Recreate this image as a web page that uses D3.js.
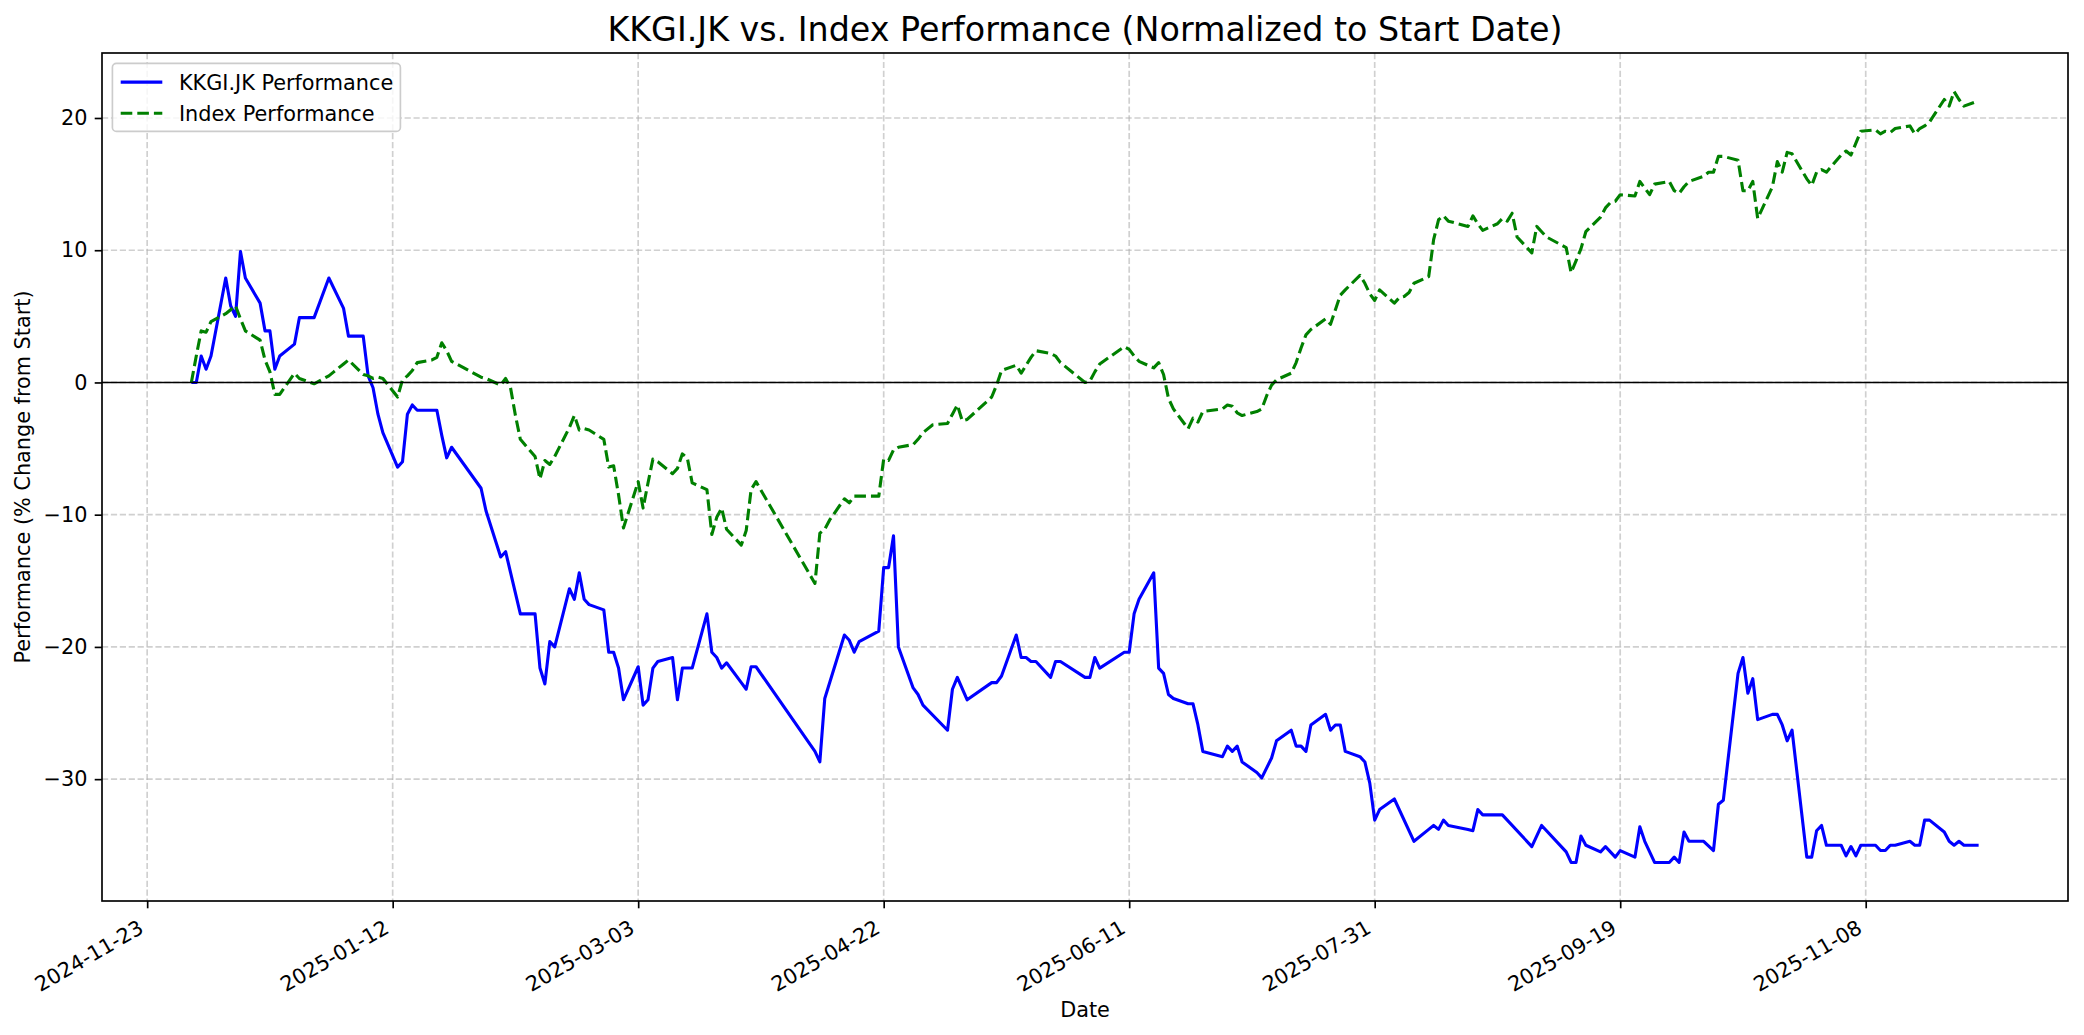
<!DOCTYPE html>
<html>
<head>
<meta charset="utf-8">
<script src="https://cdn.jsdelivr.net/npm/d3@7"></script>
<style>
  body { margin: 0; background: #fff; }
  svg { font-family: "DejaVu Sans", sans-serif; }
</style>
</head>
<body>
<svg id="chart" width="2084" height="1035"></svg>
<script>
// KKGI.JK vs. index, % change from first trading day

const stockDates = [
  "2024-12-02","2024-12-03","2024-12-04","2024-12-05","2024-12-06","2024-12-09","2024-12-10","2024-12-11","2024-12-12","2024-12-13",
  "2024-12-16","2024-12-17","2024-12-18","2024-12-19","2024-12-20","2024-12-23","2024-12-24","2024-12-27","2024-12-30","2025-01-02",
  "2025-01-03","2025-01-06","2025-01-07","2025-01-08","2025-01-09","2025-01-10","2025-01-13","2025-01-14","2025-01-15","2025-01-16",
  "2025-01-17","2025-01-20","2025-01-21","2025-01-22","2025-01-23","2025-01-24","2025-01-30","2025-01-31","2025-02-03","2025-02-04",
  "2025-02-07","2025-02-10","2025-02-11","2025-02-12","2025-02-13","2025-02-14","2025-02-17","2025-02-18","2025-02-19","2025-02-20",
  "2025-02-21","2025-02-24","2025-02-25","2025-02-26","2025-02-27","2025-02-28","2025-03-03","2025-03-04","2025-03-05","2025-03-06",
  "2025-03-07","2025-03-10","2025-03-11","2025-03-12","2025-03-13","2025-03-14","2025-03-17","2025-03-18","2025-03-19","2025-03-20",
  "2025-03-21","2025-03-24","2025-03-25","2025-03-26","2025-03-27","2025-04-08","2025-04-09","2025-04-10","2025-04-14","2025-04-15",
  "2025-04-16","2025-04-17","2025-04-21","2025-04-22","2025-04-23","2025-04-24","2025-04-25","2025-04-28","2025-04-29","2025-04-30",
  "2025-05-05","2025-05-06","2025-05-07","2025-05-09","2025-05-14","2025-05-15","2025-05-16","2025-05-19","2025-05-20","2025-05-21",
  "2025-05-22","2025-05-23","2025-05-26","2025-05-27","2025-05-28","2025-06-02","2025-06-03","2025-06-04","2025-06-05","2025-06-10",
  "2025-06-11","2025-06-12","2025-06-13","2025-06-16","2025-06-17","2025-06-18","2025-06-19","2025-06-20","2025-06-23","2025-06-24",
  "2025-06-25","2025-06-26","2025-06-30","2025-07-01","2025-07-02","2025-07-03","2025-07-04","2025-07-07","2025-07-08","2025-07-10",
  "2025-07-11","2025-07-14","2025-07-15","2025-07-16","2025-07-17","2025-07-18","2025-07-21","2025-07-22","2025-07-23","2025-07-24",
  "2025-07-25","2025-07-28","2025-07-29","2025-07-30","2025-07-31","2025-08-01","2025-08-04","2025-08-08","2025-08-11","2025-08-12",
  "2025-08-13","2025-08-14","2025-08-15","2025-08-19","2025-08-20","2025-08-21","2025-08-22","2025-08-25","2025-08-26","2025-09-01",
  "2025-09-03","2025-09-08","2025-09-09","2025-09-10","2025-09-11","2025-09-12","2025-09-15","2025-09-16","2025-09-18","2025-09-19",
  "2025-09-22","2025-09-23","2025-09-24","2025-09-26","2025-09-29","2025-09-30","2025-10-01","2025-10-02","2025-10-03","2025-10-06",
  "2025-10-08","2025-10-09","2025-10-10","2025-10-13","2025-10-14","2025-10-15","2025-10-16","2025-10-17","2025-10-20","2025-10-21",
  "2025-10-22","2025-10-23","2025-10-24","2025-10-27","2025-10-28","2025-10-29","2025-10-30","2025-10-31","2025-11-03","2025-11-04",
  "2025-11-05","2025-11-06","2025-11-07","2025-11-10","2025-11-11","2025-11-12","2025-11-13","2025-11-14","2025-11-17","2025-11-18",
  "2025-11-19","2025-11-20","2025-11-21","2025-11-24","2025-11-25","2025-11-26","2025-11-27","2025-11-28","2025-12-01"
];
const stockValues = [
  0, 0, 2.0, 1.0, 2.0, 7.9, 5.8, 5.0, 9.9, 7.9,
  6.0, 3.9, 3.9, 1.0, 2.0, 2.9, 4.9, 4.9, 7.9, 5.6,
  3.5, 3.5, 0.5, -0.4, -2.4, -3.8, -6.4, -6.0, -2.4, -1.7,
  -2.1, -2.1, -2.1, -4.0, -5.7, -4.9, -8.0, -9.7, -13.2, -12.8,
  -17.5, -17.5, -21.6, -22.8, -19.6, -20.0, -15.6, -16.4, -14.4, -16.4,
  -16.8, -17.2, -20.4, -20.4, -21.6, -24.0, -21.5, -24.4, -24.0, -21.6,
  -21.1, -20.8, -24.0, -21.6, -21.6, -21.6, -17.5, -20.4, -20.8, -21.6,
  -21.2, -22.7, -23.2, -21.5, -21.5, -27.9, -28.7, -23.9, -19.1, -19.5,
  -20.4, -19.6, -18.8, -14.0, -14.0, -11.6, -20.0, -23.1, -23.6, -24.4,
  -26.3, -23.2, -22.3, -24.0, -22.7, -22.7, -22.2, -19.1, -20.8, -20.8,
  -21.1, -21.1, -22.3, -21.1, -21.1, -22.3, -22.3, -20.8, -21.6, -20.4,
  -20.4, -17.5, -16.4, -14.4, -21.6, -22.0, -23.6, -23.9, -24.3, -24.3,
  -25.9, -27.9, -28.3, -27.5, -27.9, -27.5, -28.7, -29.5, -29.9, -28.4,
  -27.1, -26.3, -27.5, -27.5, -27.9, -25.9, -25.1, -26.3, -25.9, -25.9,
  -27.9, -28.3, -28.7, -30.3, -33.1, -32.3, -31.5, -34.7, -33.8, -33.5,
  -33.8, -33.1, -33.5, -33.8, -33.9, -32.3, -32.7, -32.7, -32.7, -35.1,
  -33.5, -35.5, -36.3, -36.3, -34.3, -35.0, -35.5, -35.1, -35.9, -35.4,
  -35.9, -33.6, -34.7, -36.3, -36.3, -35.9, -36.3, -34.0, -34.7, -34.7,
  -35.4, -31.9, -31.6, -22.0, -20.8, -23.5, -22.4, -25.5, -25.1, -25.1,
  -25.9, -27.1, -26.3, -35.9, -35.9, -33.9, -33.5, -35.0, -35.0, -35.8,
  -35.1, -35.8, -35.0, -35.0, -35.4, -35.4, -35.0, -35.0, -34.7, -35.0,
  -35.0, -33.1, -33.1, -34.0, -34.7, -35.0, -34.7, -35.0, -35.0
];

const indexDates = [
  "2024-12-02","2024-12-03","2024-12-04","2024-12-05","2024-12-06","2024-12-09","2024-12-10","2024-12-11","2024-12-12","2024-12-13",
  "2024-12-16","2024-12-17","2024-12-18","2024-12-19","2024-12-20","2024-12-23","2024-12-24","2024-12-27","2024-12-30","2024-12-31",
  "2025-01-02","2025-01-03","2025-01-06","2025-01-07","2025-01-08","2025-01-09","2025-01-10","2025-01-13","2025-01-14","2025-01-15",
  "2025-01-16","2025-01-17","2025-01-20","2025-01-21","2025-01-22","2025-01-23","2025-01-24","2025-01-30","2025-01-31","2025-02-03",
  "2025-02-04","2025-02-05","2025-02-06","2025-02-07","2025-02-10","2025-02-11","2025-02-12","2025-02-13","2025-02-14","2025-02-17",
  "2025-02-18","2025-02-19","2025-02-20","2025-02-21","2025-02-24","2025-02-25","2025-02-26","2025-02-27","2025-02-28","2025-03-03",
  "2025-03-04","2025-03-05","2025-03-06","2025-03-07","2025-03-10","2025-03-11","2025-03-12","2025-03-13","2025-03-14","2025-03-17",
  "2025-03-18","2025-03-19","2025-03-20","2025-03-21","2025-03-24","2025-03-25","2025-03-26","2025-03-27","2025-04-08","2025-04-09",
  "2025-04-10","2025-04-11","2025-04-14","2025-04-15","2025-04-16","2025-04-17","2025-04-21","2025-04-22","2025-04-23","2025-04-24",
  "2025-04-25","2025-04-28","2025-04-29","2025-04-30","2025-05-02","2025-05-05","2025-05-06","2025-05-07","2025-05-08","2025-05-09",
  "2025-05-14","2025-05-15","2025-05-16","2025-05-19","2025-05-20","2025-05-21","2025-05-22","2025-05-23","2025-05-26","2025-05-27",
  "2025-05-28","2025-06-02","2025-06-03","2025-06-04","2025-06-05","2025-06-10","2025-06-11","2025-06-12","2025-06-13","2025-06-16",
  "2025-06-17","2025-06-18","2025-06-19","2025-06-20","2025-06-23","2025-06-24","2025-06-25","2025-06-26","2025-06-30","2025-07-01",
  "2025-07-02","2025-07-03","2025-07-04","2025-07-07","2025-07-08","2025-07-09","2025-07-10","2025-07-11","2025-07-14","2025-07-15",
  "2025-07-16","2025-07-17","2025-07-18","2025-07-21","2025-07-22","2025-07-23","2025-07-24","2025-07-25","2025-07-28","2025-07-29",
  "2025-07-30","2025-07-31","2025-08-01","2025-08-04","2025-08-05","2025-08-06","2025-08-07","2025-08-08","2025-08-11","2025-08-12",
  "2025-08-13","2025-08-14","2025-08-15","2025-08-19","2025-08-20","2025-08-21","2025-08-22","2025-08-25","2025-08-26","2025-08-27",
  "2025-08-28","2025-08-29","2025-09-01","2025-09-02","2025-09-03","2025-09-04","2025-09-08","2025-09-09","2025-09-10","2025-09-11",
  "2025-09-12","2025-09-15","2025-09-16","2025-09-17","2025-09-18","2025-09-19","2025-09-22","2025-09-23","2025-09-24","2025-09-25",
  "2025-09-26","2025-09-29","2025-09-30","2025-10-01","2025-10-02","2025-10-03","2025-10-06","2025-10-07","2025-10-08","2025-10-09",
  "2025-10-10","2025-10-13","2025-10-14","2025-10-15","2025-10-16","2025-10-17","2025-10-20","2025-10-21","2025-10-22","2025-10-23",
  "2025-10-24","2025-10-27","2025-10-28","2025-10-29","2025-10-30","2025-10-31","2025-11-03","2025-11-04","2025-11-05","2025-11-06",
  "2025-11-07","2025-11-10","2025-11-11","2025-11-12","2025-11-13","2025-11-14","2025-11-17","2025-11-18","2025-11-19","2025-11-20",
  "2025-11-21","2025-11-24","2025-11-25","2025-11-26","2025-11-27","2025-11-28","2025-12-01"
];
const indexValues = [
  0, 2.0, 3.9, 3.8, 4.6, 5.2, 5.5, 5.8, 4.8, 3.9,
  3.2, 1.7, 0.8, -0.9, -0.9, 0.7, 0.3, -0.1, 0.5, 0.8,
  1.4, 1.7, 0.6, 0.5, 0.3, 0.4, 0.3, -1.1, 0.2, 0.5,
  0.9, 1.5, 1.7, 1.9, 3.0, 2.4, 1.6, 0.4, 0.3, -0.2,
  0.3, -0.4, -2.5, -4.3, -5.6, -7.3, -5.9, -6.2, -5.6, -3.4,
  -2.5, -3.6, -3.5, -3.6, -4.3, -6.4, -6.3, -8.5, -11.0, -7.5,
  -9.5, -7.6, -5.8, -6.0, -6.9, -6.5, -5.4, -5.7, -7.6, -8.1,
  -11.5, -10.2, -9.5, -11.1, -12.3, -11.2, -8.1, -7.5, -15.2, -11.4,
  -11.1, -10.4, -8.8, -9.1, -8.6, -8.6, -8.6, -5.8, -5.9, -5.1,
  -4.9, -4.7, -4.3, -3.8, -3.2, -3.1, -2.4, -1.7, -2.9, -2.8,
  -1.1, -0.2, 0.9, 1.3, 0.7, 1.3, 1.9, 2.4, 2.2, 2.0,
  1.5, 0.0, 0.1, 0.8, 1.4, 2.7, 2.5, 2.0, 1.6, 1.1,
  1.5, 0.6, -1.2, -2.0, -3.5, -2.7, -3.0, -2.2, -2.0, -1.7,
  -1.8, -2.3, -2.5, -2.2, -2.0, -1.0, -0.2, 0.2, 0.7, 1.5,
  2.6, 3.6, 4.0, 4.8, 4.4, 5.5, 6.6, 7.0, 8.1, 7.5,
  6.7, 6.2, 7.0, 6.0, 6.4, 6.5, 6.8, 7.5, 8.0, 10.8,
  12.3, 12.6, 12.2, 11.8, 12.6, 12.0, 11.5, 12.0, 12.4, 12.2,
  12.8, 11.0, 9.8, 11.8, 11.4, 11.0, 10.2, 8.3, 9.2, 10.1,
  11.4, 12.5, 13.2, 13.6, 13.7, 14.2, 14.1, 15.2, 14.7, 14.2,
  15.0, 15.2, 14.5, 14.3, 14.8, 15.2, 15.6, 15.9, 15.9, 17.1,
  17.1, 16.8, 14.5, 14.5, 15.2, 12.4, 14.8, 16.7, 15.9, 17.4,
  17.3, 15.4, 14.9, 15.9, 16.1, 15.9, 17.2, 17.5, 17.2, 18.1,
  19.0, 19.1, 18.8, 19.0, 18.9, 19.2, 19.4, 18.8, 19.2, 19.4,
  19.7, 21.4, 20.9, 22.0, 21.4, 20.9, 21.3
];

const xTickLabels = ["2024-11-23","2025-01-12","2025-03-03","2025-04-22","2025-06-11","2025-07-31","2025-09-19","2025-11-08"];
const yTickValues = [-30, -20, -10, 0, 10, 20];
const seriesNames = ["KKGI.JK Performance", "Index Performance"];

const parse = d3.utcParse("%Y-%m-%d");
const stock = stockDates.map((d, i) => ({ date: parse(d), value: stockValues[i] }));
const index = indexDates.map((d, i) => ({ date: parse(d), value: indexValues[i] }));
const series = [
  { name: seriesNames[0], data: stock, color: "#0000ff", dash: null },
  { name: seriesNames[1], data: index, color: "#008000", dash: "11.6,5" }
];

const width = 2084, height = 1035;
const margin = { top: 53, right: 16, bottom: 134, left: 102 };
const fs = 20.8;   // 10pt at 150 dpi

const svg = d3.select("#chart");
svg.append("rect").attr("width", width).attr("height", height).attr("fill", "#fff");

// matplotlib style 5% margins
const all = stock.concat(index);
const [d0, d1] = d3.extent(all, d => d.date);
const dpad = (d1 - d0) * 0.05;
const x = d3.scaleUtc()
  .domain([new Date(+d0 - dpad), new Date(+d1 + dpad)])
  .range([margin.left, width - margin.right]);

const [v0, v1] = d3.extent(all, d => d.value);
const vpad = (v1 - v0) * 0.05;
const y = d3.scaleLinear()
  .domain([v0 - vpad, v1 + vpad])
  .range([height - margin.bottom, margin.top]);

const xTicks = xTickLabels.map(parse);
const plotTop = margin.top, plotBottom = height - margin.bottom;
const plotLeft = margin.left, plotRight = width - margin.right;

// grid
const grid = svg.append("g")
  .attr("stroke", "#b0b0b0").attr("stroke-opacity", 0.6)
  .attr("stroke-width", 1.67).attr("stroke-dasharray", "6.2,2.7");
grid.selectAll("line.gx").data(xTicks).join("line")
  .attr("x1", d => x(d)).attr("x2", d => x(d)).attr("y1", plotTop).attr("y2", plotBottom);
grid.selectAll("line.gy").data(yTickValues).join("line")
  .attr("x1", plotLeft).attr("x2", plotRight).attr("y1", d => y(d)).attr("y2", d => y(d));

// series
const line = d3.line().x(d => x(d.date)).y(d => y(d.value));
svg.append("g").selectAll("path").data(series).join("path")
  .attr("d", d => line(d.data))
  .attr("fill", "none")
  .attr("stroke", d => d.color)
  .attr("stroke-width", 3.1)
  .attr("stroke-linejoin", "round")
  .attr("stroke-dasharray", d => d.dash);

// zero line
svg.append("line")
  .attr("x1", plotLeft).attr("x2", plotRight)
  .attr("y1", y(0)).attr("y2", y(0))
  .attr("stroke", "#000").attr("stroke-width", 1.6);

// axes
const fmt = d3.utcFormat("%Y-%m-%d");
const xAxis = svg.append("g")
  .attr("transform", `translate(0,${plotBottom})`)
  .call(d3.axisBottom(x).tickValues(xTicks).tickFormat(fmt).tickSize(7.3).tickSizeOuter(0));
xAxis.select(".domain").remove();
xAxis.selectAll("line").attr("stroke", "#000").attr("stroke-width", 1.67);
xAxis.selectAll("text")
  .attr("y", 0).attr("dy", "0.9em")
  .attr("transform", "translate(-12,14.6) rotate(-30)")
  .style("text-anchor", "end")
  .attr("fill", "#000")
  .style("font-size", fs + "px")
  .style("font-family", "DejaVu Sans");

const yAxis = svg.append("g")
  .attr("transform", `translate(${plotLeft},0)`)
  .call(d3.axisLeft(y).tickValues(yTickValues).tickFormat(d => d < 0 ? "\u2212" + Math.abs(d) : d)
    .tickSize(7.3).tickPadding(7.3).tickSizeOuter(0));
yAxis.select(".domain").remove();
yAxis.selectAll("line").attr("stroke", "#000").attr("stroke-width", 1.67);
yAxis.selectAll("text")
  .attr("fill", "#000")
  .style("font-size", fs + "px")
  .style("font-family", "DejaVu Sans");

// frame
svg.append("rect")
  .attr("x", plotLeft).attr("y", plotTop)
  .attr("width", plotRight - plotLeft).attr("height", plotBottom - plotTop)
  .attr("fill", "none").attr("stroke", "#000").attr("stroke-width", 1.67);

// labels
svg.append("text")
  .attr("x", (plotLeft + plotRight) / 2).attr("y", 40.5)
  .attr("text-anchor", "middle")
  .style("font-size", "33.3px")
  .text("KKGI.JK vs. Index Performance (Normalized to Start Date)");

svg.append("text")
  .attr("x", (plotLeft + plotRight) / 2).attr("y", 1017)
  .attr("text-anchor", "middle")
  .style("font-size", fs + "px")
  .text("Date");

svg.append("text")
  .attr("transform", `translate(30,${(plotTop + plotBottom) / 2}) rotate(-90)`)
  .attr("text-anchor", "middle")
  .style("font-size", fs + "px")
  .text("Performance (% Change from Start)");

// legend
const lg = svg.append("g").attr("transform", "translate(112.4,63.4)");
lg.append("rect")
  .attr("width", 288).attr("height", 68)
  .attr("rx", 4)
  .attr("fill", "#fff").attr("fill-opacity", 0.8)
  .attr("stroke", "#cccccc").attr("stroke-width", 1.67);
const rows = lg.selectAll("g.row").data(series).join("g")
  .attr("transform", (d, i) => `translate(8.3,${18.7 + i * 31.2})`);
rows.append("line")
  .attr("x1", 0).attr("x2", 41.6)
  .attr("stroke", d => d.color).attr("stroke-width", 3.1)
  .attr("stroke-dasharray", d => d.dash);
rows.append("text")
  .attr("x", 58.2).attr("dy", "0.36em")
  .style("font-size", fs + "px")
  .text(d => d.name);
</script>
</body>
</html>
